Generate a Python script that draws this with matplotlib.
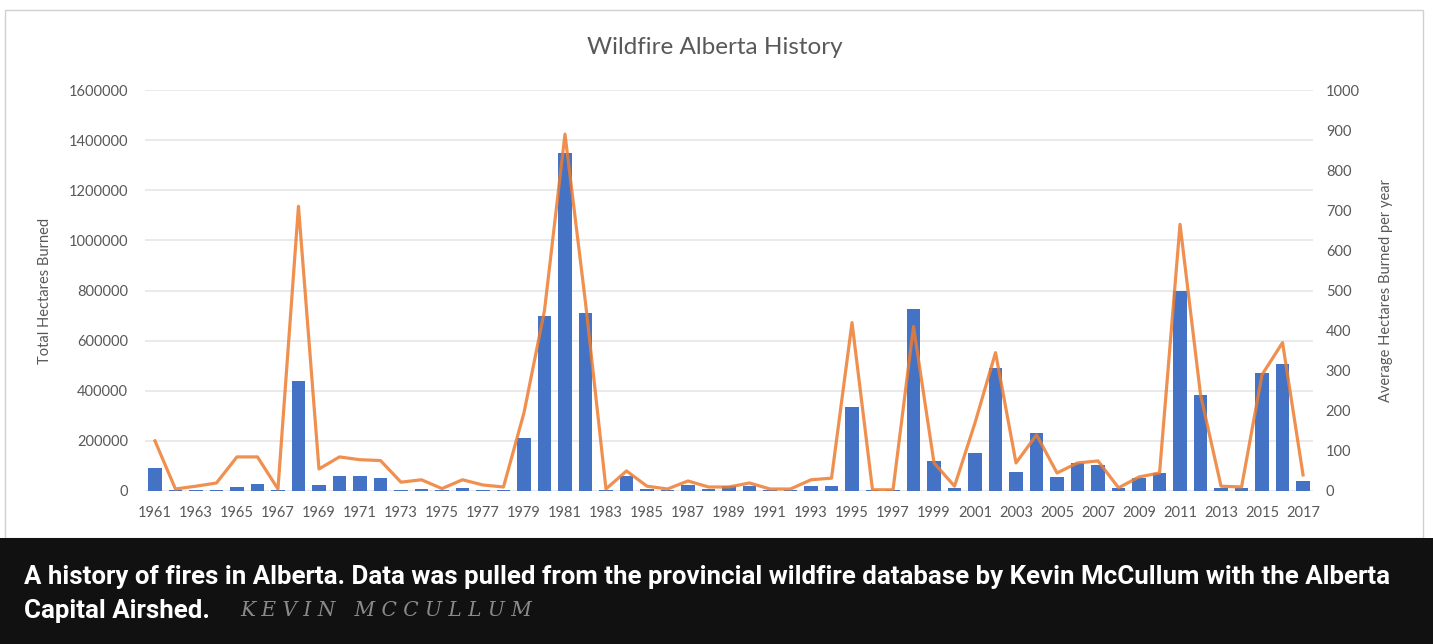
import matplotlib
matplotlib.use("Agg")
import matplotlib.pyplot as plt
import matplotlib.patches as mpatches
import numpy as np

## DATOS
years = list(range(1961, 2018))

total_hectares = [
    90000, 2000, 3000, 5000, 15000, 28000, 2000, 440000, 22000, 60000,
    60000, 50000, 4000, 8000, 2000, 12000, 3000, 3000, 210000, 700000,
    1350000, 710000, 3000, 60000, 6000, 4000, 25000, 6000, 20000, 20000,
    3000, 4000, 18000, 20000, 335000, 3000, 2000, 725000, 120000, 10000,
    150000, 490000, 75000, 230000, 55000, 110000, 105000, 10000, 50000, 70000,
    800000, 385000, 12000, 10000, 470000, 505000, 40000,
]

avg_hectares = [
    125, 5, 12, 20, 85, 85, 5, 710, 55, 85,
    78, 76, 22, 28, 6, 28, 15, 10, 195, 450,
    890, 470, 5, 50, 12, 5, 25, 10, 10, 20,
    5, 5, 28, 32, 420, 3, 3, 410, 70, 12,
    170, 345, 70, 140, 45, 70, 75, 8, 35, 45,
    665, 240, 12, 10, 290, 370, 40,
]

left_ticks = [0, 200000, 400000, 600000, 800000, 1000000, 1200000, 1400000, 1600000]
right_ticks = [0, 100, 200, 300, 400, 500, 600, 700, 800, 900, 1000]

title = "Wildfire Alberta History"
left_label = "Total Hectares Burned"
right_label = "Average Hectares Burned per year"
caption_1 = ("A history of fires in Alberta. Data was pulled from the provincial "
             "wildfire database by Kevin McCullum with the Alberta")
caption_2 = "Capital Airshed."
credit = "K E V I N   M C C U L L U M"

# Colores
hex_bars = '#4472C4'
hex_line = '#ED7D31'
hex_text = '#595959'
hex_grid = '#E6E6E6'
hex_caption_bg = '#111111'

chart_font = ['Lato', 'DejaVu Sans']
caption_font = ['Roboto', 'DejaVu Sans']

W, H = 1433, 644
fig = plt.figure(figsize=(W / 100, H / 100), dpi=100)
fig.patch.set_facecolor('white')

# Marco del grafico y franja del pie
fig.add_artist(mpatches.Rectangle((5 / W, (H - 538) / H), 1418 / W, 528 / H,
                                  transform=fig.transFigure, facecolor='white',
                                  edgecolor='#D0D0D0', linewidth=1.0, zorder=0))
fig.add_artist(mpatches.Rectangle((0, 0), 1, (H - 538) / H,
                                  transform=fig.transFigure, facecolor=hex_caption_bg,
                                  edgecolor='none', zorder=1))

ax = fig.add_axes([144.7 / W, (H - 491) / H, (1313.3 - 144.7) / W, 401 / H])
ax.set_facecolor('none')
x = np.arange(len(years))

ax.bar(x, total_hectares, width=0.64, color=hex_bars, zorder=2)
ax.set_xlim(-0.5, len(years) - 0.5)
ax.set_ylim(0, 1600000)
ax.set_yticks(left_ticks)
ax.set_yticklabels([str(t) for t in left_ticks])
ax.set_xticks(x[::2])
ax.set_xticklabels([str(y) for y in years[::2]])
ax.grid(axis='y', color=hex_grid, linewidth=1.2, zorder=0)
ax.set_axisbelow(True)
for s in ax.spines.values():
    s.set_visible(False)
ax.tick_params(axis='both', length=0, colors=hex_text, labelsize=10.5)
ax.tick_params(axis='y', pad=12)
ax.tick_params(axis='x', pad=11)
for lbl in ax.get_xticklabels() + ax.get_yticklabels():
    lbl.set_family(chart_font)
ax.set_ylabel(left_label, color=hex_text, fontsize=10.5, family=chart_font, labelpad=12)

ax2 = ax.twinx()
ax2.plot(x, avg_hectares, color=hex_line, linewidth=2.3, alpha=0.85, zorder=3)
ax2.set_ylim(0, 1000)
ax2.set_yticks(right_ticks)
ax2.set_yticklabels([str(t) for t in right_ticks])
for s in ax2.spines.values():
    s.set_visible(False)
ax2.tick_params(axis='y', length=0, colors=hex_text, labelsize=10.5, pad=9)
for lbl in ax2.get_yticklabels():
    lbl.set_family(chart_font)
ax2.set_ylabel(right_label, color=hex_text, fontsize=10.5, family=chart_font, labelpad=14)

fig.text(715 / W, 1 - 48 / H, title, ha='center', va='center', fontsize=17.5,
         color=hex_text, family=chart_font)

# Pie de foto
fig.text(24 / W, 1 - 577 / H, caption_1, ha='left', va='center', fontsize=18.6,
         color='white', fontweight='bold', family=caption_font, zorder=5)
fig.text(24 / W, 1 - 611 / H, caption_2, ha='left', va='center', fontsize=18.6,
         color='white', fontweight='bold', family=caption_font, zorder=5)
fig.text(240 / W, 1 - 611 / H, credit, ha='left', va='center', fontsize=14.5,
         color='#8A8A8A', style='italic', family=['DejaVu Serif'], zorder=5)

plt.savefig("out.png", dpi=100)
